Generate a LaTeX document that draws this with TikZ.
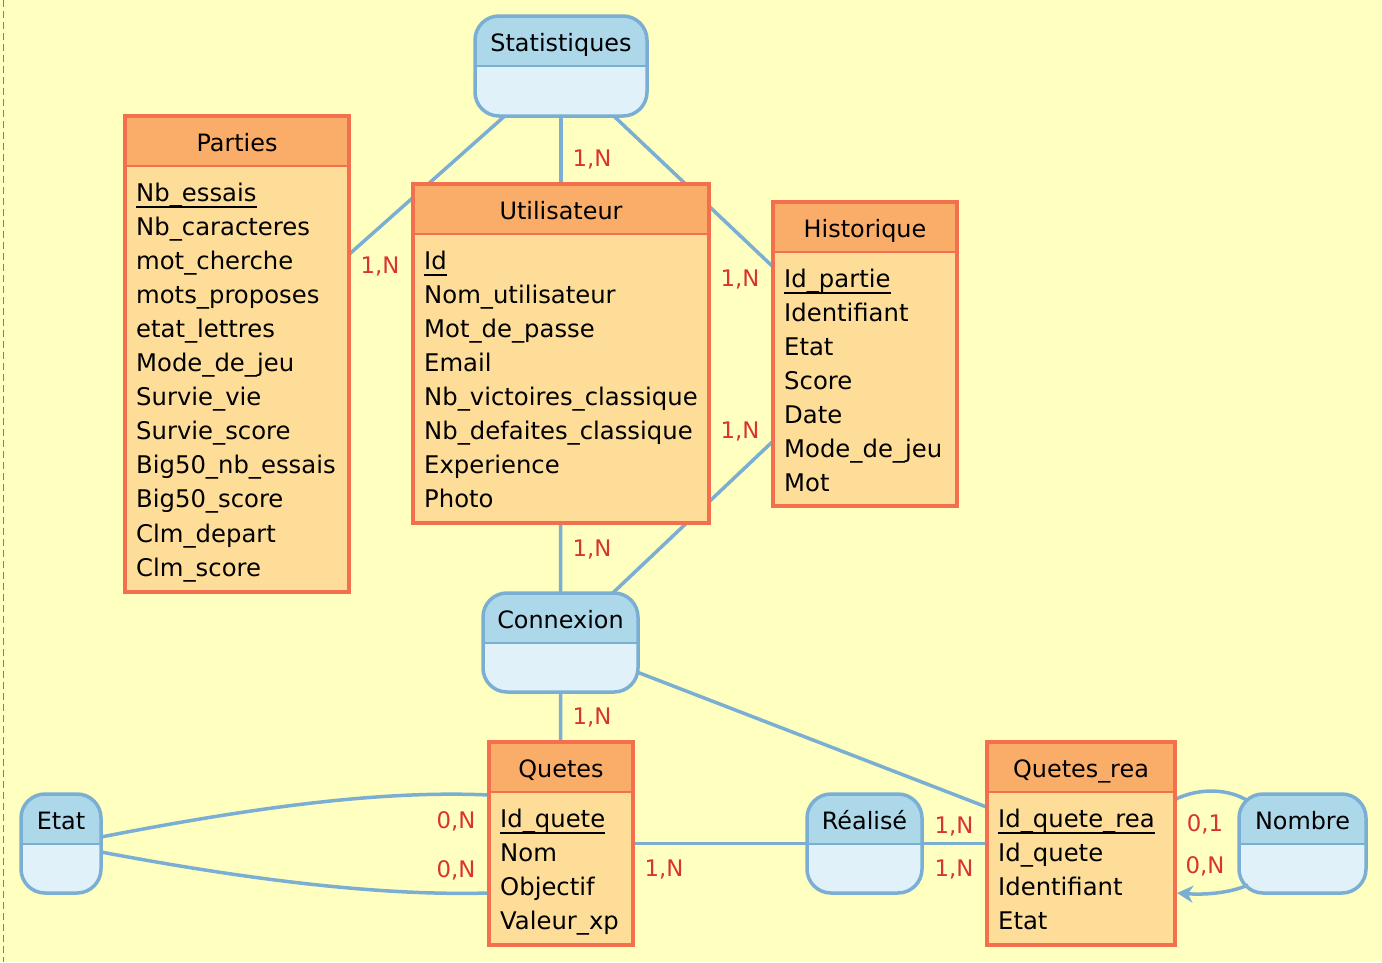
\documentclass[tikz,border=0pt]{standalone}
\usepackage{fontspec}
\setmainfont{DejaVu Sans}
\usetikzlibrary{arrows.meta,calc}
\pgfdeclarelayer{back}
\pgfdeclarelayer{wires}
\pgfsetlayers{back,wires,main}
\definecolor{bgyellow}{HTML}{FFFFC0}
\definecolor{enthead}{HTML}{FAAD68}
\definecolor{entbody}{HTML}{FDDD98}
\definecolor{entline}{HTML}{F2704D}
\definecolor{asshead}{HTML}{ADD8EA}
\definecolor{assbody}{HTML}{E0F1FA}
\definecolor{assline}{HTML}{7AAFD3}
\definecolor{cardred}{HTML}{D93434}
\tikzset{
  boxshape/.style={rectangle, inner sep=0pt, outer sep=0pt},
  link/.style={draw=assline, line width=3.5pt},
  ttl/.style={font=\fontsize{23.9pt}{28pt}\selectfont, inner sep=0pt, anchor=base},
  attr/.style={font=\fontsize{24.3pt}{28pt}\selectfont, inner sep=0pt, anchor=base west},
  card/.style={font=\fontsize{22.8pt}{27pt}\selectfont, text=cardred, inner sep=0pt},
}
\newcommand\mkentity[6]{%
  \node[boxshape, minimum width={(#4-#2)*1pt}, minimum height={(#5-#3)*1pt}, fill=entbody] (#1) at ({(#2+#4)/2},{(#3+#5)/2}) {};
  \fill[enthead] (#1.north west) rectangle ([yshift=-50pt]#1.north east);
  \draw[entline, line width=2pt] ([yshift=-50pt]#1.north west) -- ([yshift=-50pt]#1.north east);
  \draw[entline, line width=3.5pt] (#1.north west) rectangle (#1.south east);
  \node[ttl] (#1-t) at ([yshift=-35pt]#1.north) {#6};
}
\newcommand\mkattrs[2]{%
  \foreach \a [count=\i from 0] in {#2} {
    \node[attr] (#1-a\i) at ($(#1.north west)+(11,85+34.1*\i)$) {\a};
  }
  \draw[line width=2pt] ([yshift=-5.5pt]#1-a0.base west) -- ([yshift=-5.5pt]#1-a0.base east);
}
\newcommand\mkassoc[6]{%
  \node[boxshape, minimum width={(#4-#2)*1pt}, minimum height={(#5-#3)*1pt}, fill=assbody, rounded corners=24pt] (#1) at ({(#2+#4)/2},{(#3+#5)/2}) {};
  \begin{scope}
    \clip[rounded corners=24pt] (#1.north west) rectangle (#1.south east);
    \fill[asshead] (#1.north west) rectangle ([yshift=-50pt]#1.north east);
  \end{scope}
  \draw[assline, line width=2pt] ([yshift=-50pt]#1.north west) -- ([yshift=-50pt]#1.north east);
  \draw[assline, line width=3.5pt, rounded corners=24pt] (#1.north west) rectangle (#1.south east);
  \node[ttl] (#1-t) at ([yshift=-35pt]#1.north) {#6};
}
\begin{document}
\begin{tikzpicture}[x=1pt,y=-1pt]
\useasboundingbox (0,0) rectangle (1382,962);
\begin{pgfonlayer}{back}
  \fill[bgyellow] (0,0) rectangle (1382,962);
  \coordinate (dtop) at (3,0);
  \coordinate (dbot) at (3,962);
  \draw[gray, line width=1pt, dash pattern=on 7pt off 4pt] (dtop) -- (dbot);
\end{pgfonlayer}

% entities
\mkentity{parties}{125}{116}{349}{592}{Parties}
\mkattrs{parties}{Nb\_essais, Nb\_caracteres, mot\_cherche, mots\_proposes, etat\_lettres, Mode\_de\_jeu, Survie\_vie, Survie\_score, Big50\_nb\_essais, Big50\_score, Clm\_depart, Clm\_score}
\mkentity{util}{413}{184}{709}{523}{Utilisateur}
\mkattrs{util}{Id, Nom\_utilisateur, Mot\_de\_passe, Email, Nb\_victoires\_classique, Nb\_defaites\_classique, Experience, Photo}
\mkentity{hist}{773}{202}{957}{506}{Historique}
\mkattrs{hist}{Id\_partie, Identifiant, Etat, Score, Date, Mode\_de\_jeu, Mot}
\mkentity{quetes}{489}{742}{633}{945}{Quetes}
\mkattrs{quetes}{Id\_quete, Nom, Objectif, Valeur\_xp}
\mkentity{qrea}{987}{742}{1175}{945}{Quetes\_rea}
\mkattrs{qrea}{Id\_quete\_rea, Id\_quete, Identifiant, Etat}

% associations
\mkassoc{stat}{475}{16}{647}{116}{Statistiques}
\mkassoc{conn}{483}{593}{638}{692}{Connexion}
\mkassoc{etat}{21}{794}{101}{893}{Etat}
\mkassoc{realise}{807}{794}{922}{893}{Réalisé}
\mkassoc{nombre}{1239}{794}{1366}{893}{Nombre}

% connectors
\begin{pgfonlayer}{wires}
  \draw[link] (stat.center) -- (parties.center);
  \draw[link] (stat.center) -- (util.center);
  \draw[link] (stat.center) -- (hist.center);
  \draw[link] (util.center) -- (conn.center);
  \draw[link] (conn.center) -- (hist.center);
  \draw[link] (conn.center) -- (qrea.center);
  \draw[link] (conn.center) -- (quetes.center);
  \draw[link] (quetes.center) -- (realise.center);
  \draw[link] (realise.center) -- (qrea.center);
  \draw[link] ([yshift=6.5pt]etat.east) .. controls (250,808) and (380,790) .. ([yshift=48.5pt]quetes.west);
  \draw[link] ([yshift=-8.5pt]etat.east) .. controls (250,880) and (380,896) .. ([yshift=-49.5pt]quetes.west);
  \draw[link] ([xshift=9pt,yshift=-7pt]nombre.north west) .. controls (1228,788) and (1198,788) .. ([yshift=44pt]qrea.east);
\end{pgfonlayer}
\draw[link, -{Stealth[length=16pt,width=17pt,inset=5pt]}] ([xshift=9pt,yshift=8pt]nombre.south west) .. controls (1230,893) and (1205,895) .. ([xshift=2pt,yshift=-49.5pt]qrea.east);

% cardinalities
\node[card] (c1) at (592,160) {1,N};
\node[card] (c2) at (380,267) {1,N};
\node[card] (c3) at (740,280) {1,N};
\node[card] (c4) at (740,432) {1,N};
\node[card] (c5) at (592,550) {1,N};
\node[card] (c6) at (592,718) {1,N};
\node[card] (c7) at (456,821) {0,N};
\node[card] (c8) at (456,870) {0,N};
\node[card] (c9) at (664,870) {1,N};
\node[card] (c10) at (954,827) {1,N};
\node[card] (c11) at (954,870) {1,N};
\node[card] (c12) at (1205,824) {0,1};
\node[card] (c13) at (1205,866) {0,N};
\end{tikzpicture}
\end{document}
